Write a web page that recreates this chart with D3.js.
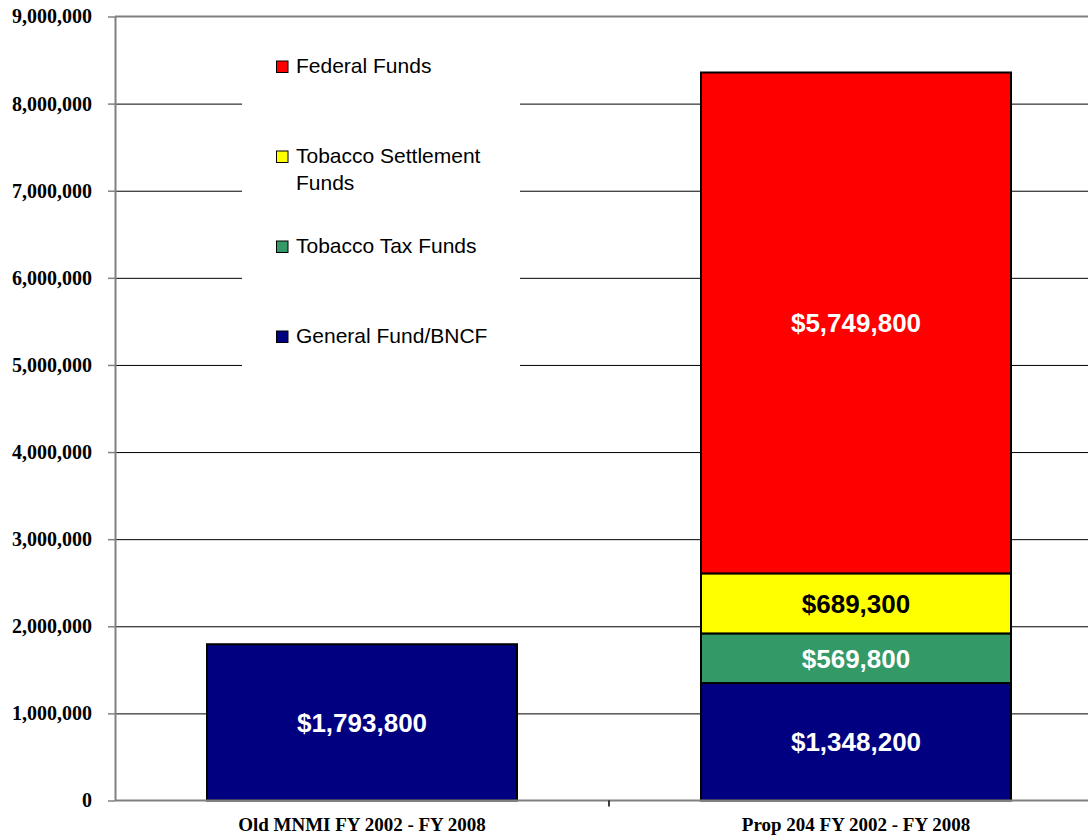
<!DOCTYPE html>
<html lang="en">
<meta charset='utf-8'>
<style>
  body{ margin:0; background:#fff }
  .ylab text{ font-family:'Liberation Serif','Times New Roman',serif; font-weight:bold; font-size:20px; fill:#000 }
  .xlab text{ font-family:'Liberation Serif','Times New Roman',serif; font-weight:bold; font-size:19px; fill:#000 }
  .legend text{ font-family:'Liberation Sans',Arial,sans-serif; font-size:21px; fill:#000 }
  .val{ font-family:'Liberation Sans',Arial,sans-serif; font-weight:bold; font-size:26px; text-anchor:middle }
  .grid line{ stroke:#000; stroke-width:1 }
</style>
<body>
<script src='https://cdn.jsdelivr.net/npm/d3@7/dist/d3.min.js'></script>
<script>

  var categories = ['Old MNMI FY 2002 - FY 2008', 'Prop 204 FY 2002 - FY 2008']
  var seriesNames = ['General Fund/BNCF', 'Tobacco Tax Funds', 'Tobacco Settlement Funds', 'Federal Funds']
  var generalFund = [1793800, 1348200]
  var tobaccoTax = [0, 569800]
  var tobaccoSettlement = [0, 689300]
  var federal = [0, 5749800]
  var yTicks = [0, 1000000, 2000000, 3000000, 4000000, 5000000, 6000000, 7000000, 8000000, 9000000]

  var colors = {'General Fund/BNCF':'#000080', 'Tobacco Tax Funds':'#339966', 'Tobacco Settlement Funds':'#FFFF00', 'Federal Funds':'#FF0000'}
  var labelColor = {'General Fund/BNCF':'#fff', 'Tobacco Tax Funds':'#fff', 'Tobacco Settlement Funds':'#000', 'Federal Funds':'#fff'}

  var seriesVals = [generalFund, tobaccoTax, tobaccoSettlement, federal]
  var rows = categories.map(function(c, i){
    var r = {cat:c}
    seriesNames.forEach(function(s, j){ r[s] = seriesVals[j][i] })
    return r
  })

  var W = 1088, H = 835
  var plotLeft = 115, plotBottom = 800.5, plotTop = 16.5
  var svg = d3.select('body').append('svg').attr('width', W).attr('height', H)

  var x = d3.scaleBand().domain(categories).range([plotLeft, plotLeft + 988])
    .paddingInner(0.3725).paddingOuter(0.18625)
  var y = d3.scaleLinear().domain([0, 9000000]).range([plotBottom, plotTop])

  // gridlines
  svg.append('g').attr('class', 'grid')
    .attr('transform', 'translate(' + plotLeft + ',0)')
    .call(d3.axisLeft(y).tickValues(yTicks.filter(function(d){ return d > 0 && d < 9000000 }))
      .tickSize(-(W - plotLeft)).tickFormat(''))
    .call(function(g){ g.select('.domain').remove() })

  // top border of plot area
  svg.append('line').attr('x1', plotLeft).attr('x2', W).attr('y1', y(9000000)).attr('y2', y(9000000))
    .attr('stroke', '#808080').attr('stroke-width', 2)

  // legend box (covers gridlines)
  var legend = svg.append('g').attr('class', 'legend')
  legend.append('rect').attr('x', 242).attr('y', 30).attr('width', 278).attr('height', 342).attr('fill', '#fff')

  var legendItems = [
    {name:'Federal Funds', lines:['Federal Funds'], base:73},
    {name:'Tobacco Settlement Funds', lines:['Tobacco Settlement', 'Funds'], base:163},
    {name:'Tobacco Tax Funds', lines:['Tobacco Tax Funds'], base:253},
    {name:'General Fund/BNCF', lines:['General Fund/BNCF'], base:343}
  ]
  legendItems.forEach(function(it){
    legend.append('rect').attr('x', 276.5).attr('y', it.base - 12).attr('width', 11.5).attr('height', 11.5)
      .attr('fill', colors[it.name]).attr('stroke', '#000').attr('stroke-width', 1)
    var t = legend.append('text').attr('x', 296).attr('y', it.base)
    it.lines.forEach(function(l, i){
      t.append('tspan').attr('x', 296).attr('dy', i === 0 ? 0 : 27).text(l)
    })
  })

  // stacked bars
  var stack = d3.stack().keys(seriesNames)(rows)
  var layers = svg.append('g').selectAll('g').data(stack).join('g')
    .attr('fill', function(d){ return colors[d.key] })

  layers.selectAll('rect').data(function(d){ return d.filter(function(p){ return p[1] - p[0] > 0 }) })
    .join('rect')
    .attr('x', function(d){ return x(d.data.cat) })
    .attr('y', function(d){ return y(d[1]) })
    .attr('width', x.bandwidth())
    .attr('height', function(d){ return y(d[0]) - y(d[1]) })
    .attr('stroke', '#000').attr('stroke-width', 2)

  layers.selectAll('text').data(function(d){
      return d.filter(function(p){ return p[1] - p[0] > 0 }).map(function(p){ p.key = d.key; return p })
    })
    .join('text').attr('class', 'val')
    .attr('x', function(d){ return x(d.data.cat) + x.bandwidth() / 2 })
    .attr('y', function(d){ return (y(d[0]) + y(d[1])) / 2 })
    .attr('dy', '0.36em')
    .attr('fill', function(d){ return labelColor[d.key] })
    .text(function(d){ return '$' + d3.format(',')(d[1] - d[0]) })

  // y axis
  svg.append('g').attr('class', 'ylab')
    .attr('transform', 'translate(' + plotLeft + ',0)')
    .call(d3.axisLeft(y).tickValues(yTicks).tickFormat(d3.format(',')).tickSize(7).tickPadding(16).tickSizeOuter(0))
    .call(function(g){
      g.select('.domain').attr('stroke', '#808080').attr('stroke-width', 2)
      g.selectAll('.tick line').attr('stroke', '#808080').attr('stroke-width', 1.5)
    })

  // x axis
  svg.append('line').attr('x1', plotLeft).attr('x2', W).attr('y1', plotBottom).attr('y2', plotBottom)
    .attr('stroke', '#808080').attr('stroke-width', 2)
  svg.append('g').selectAll('line').data(categories).join('line')
    .attr('x1', function(d){ return x(d) + x.bandwidth() + x.step() * x.paddingInner() / 2 })
    .attr('x2', function(d){ return x(d) + x.bandwidth() + x.step() * x.paddingInner() / 2 })
    .attr('y1', plotBottom).attr('y2', plotBottom + 6).attr('stroke', '#000').attr('stroke-width', 1.5)

  svg.append('g').attr('class', 'xlab')
    .attr('transform', 'translate(0,' + plotBottom + ')')
    .call(d3.axisBottom(x).tickSize(0).tickPadding(17))
    .call(function(g){ g.select('.domain').remove() })

</script>
</body>
</html>
